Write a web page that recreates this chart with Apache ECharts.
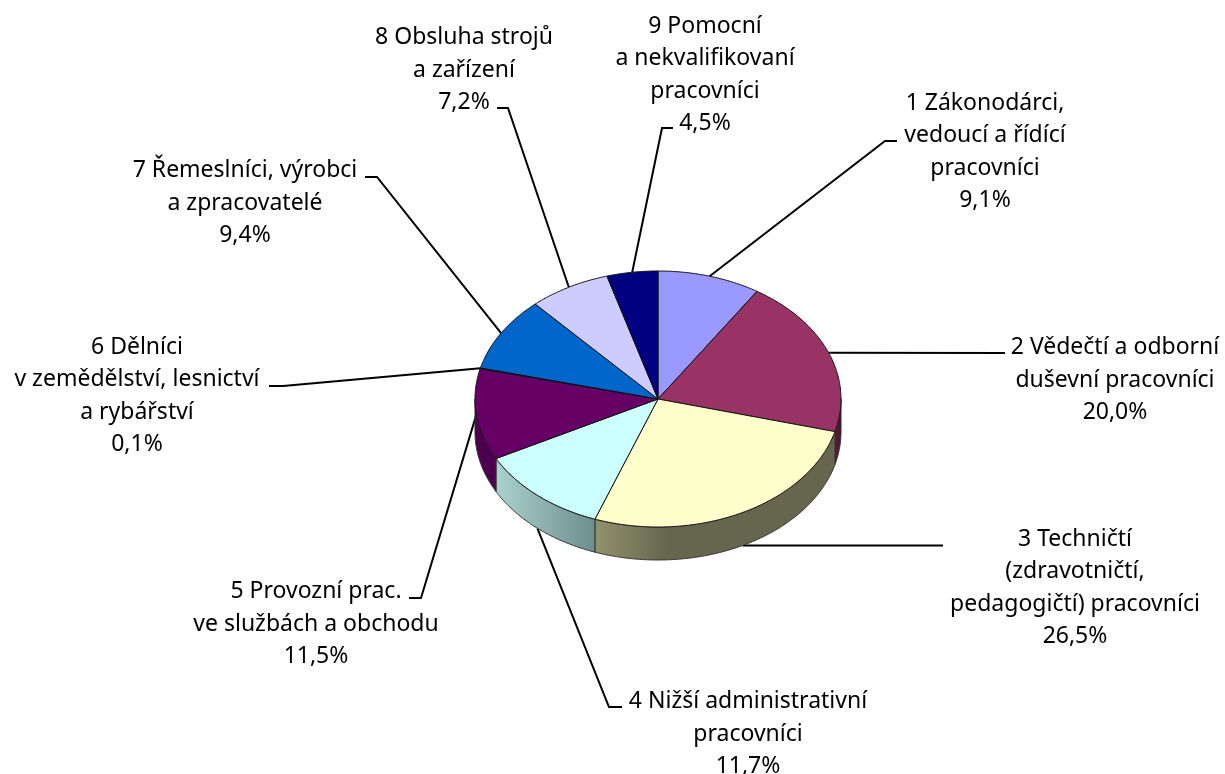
<!DOCTYPE html>
<html><head><meta charset="utf-8">
<style>html,body{margin:0;padding:0;background:#fff}#c{width:1225px;height:774px}</style>
<script src="https://cdn.jsdelivr.net/npm/echarts@6/dist/echarts.min.js"></script>
</head><body><div id="c"></div>
<script>
const categories = [
  "1 Zákonodárci,\nvedoucí a řídící\npracovníci",
  "2 Vědečtí a odborní\nduševní pracovníci",
  "3 Techničtí\n(zdravotničtí,\npedagogičtí) pracovníci",
  "4 Nižší administrativní\npracovníci",
  "5 Provozní prac.\nve službách a obchodu",
  "6 Dělníci\nv zemědělství, lesnictví\na rybářství",
  "7 Řemeslníci, výrobci\na zpracovatelé",
  "8 Obsluha strojů\na zařízení",
  "9 Pomocní\na nekvalifikovaní\npracovníci"
];
const values = [9.1, 20.0, 26.5, 11.7, 11.5, 0.1, 9.4, 7.2, 4.5];
const sliceColors = ["#9999FF","#993366","#FFFFCC","#CCFFFF","#660066","#FF8080","#0066CC","#CCCCFF","#000080"];
const wallLight = ["#5c5c99","#5c1f3d","#92926f","#abd2cf","#4d004d","#995050","#003d7a","#7a7a99","#00004d"];
const wallDark  = ["#5c5c99","#4a1030","#66664f","#6b8e8e","#4d004d","#995050","#003d7a","#7a7a99","#00004d"];
// layout: label block centres and the leader-line elbows
const labelCenter = [[985,152],[1115,380],[1075,588],[748,734],[316,624],[137,396],[245,203],[464,70],[705,75]];
const elbows = [
  [[885,141],[897,141]],
  [[1005,353]],
  [[943,545.5]],
  [[609,707],[622,707]],
  [[421,598],[409,598]],
  [[283,386],[269,386]],
  [[377,177],[365,177]],
  [[508,108],[497,108]],
  [[662,128],[673,128]]
];
const CX = 658, CY = 399, RX = 183, RY = 128, DEPTH = 33;
const FONT = '23px "Noto Sans"', LINE_H = 32.5;
const total = values.reduce((a,b)=>a+b,0);
const starts = []; values.reduce((acc,v,i)=>{starts[i]=acc;return acc+v;},0);
const toA = p => p/total*2*Math.PI;
const rim = (a,dy=0) => [CX+RX*Math.sin(a), CY-RY*Math.cos(a)+dy];
const arc = (a0,a1,dy=0) => { const n=Math.max(2,Math.ceil((a1-a0)*180/Math.PI)*2), o=[]; for(let i=0;i<=n;i++) o.push(rim(a0+(a1-a0)*i/n,dy)); return o; };

function renderItem(params, api){
  const i = params.dataIndex, v = api.value(0);
  const a0 = toA(starts[i]), a1 = toA(starts[i]+v), mid=(a0+a1)/2;
  const children = [];
  // visible side wall: lower half of the ellipse only
  const w0 = Math.max(a0,Math.PI/2), w1 = Math.min(a1,Math.PI*1.5);
  if (w1>w0){
    const top = arc(w0,w1), bot = arc(w0,w1,DEPTH).reverse();
    children.push({type:'polygon',z2:2,shape:{points:top.concat(bot)},style:{
      fill:new echarts.graphic.LinearGradient(0,0,1,0,[{offset:0,color:wallLight[i]},{offset:i===2?0.3:1,color:wallDark[i]},{offset:1,color:wallDark[i]}]),
      stroke:'#333',lineWidth:1}});
  }
  // top face
  children.push({type:'polygon',z2:3,shape:{points:[[CX,CY]].concat(arc(a0,a1))},style:{fill:sliceColors[i],stroke:'#111',lineWidth:1}});
  // leader line, from the slice's mid-rim point (front slices: wall foot)
  const onWall = mid>Math.PI/2 && mid<Math.PI*1.4;
  const pts = [rim(mid,onWall?DEPTH:0)].concat(elbows[i]);
  children.push({type:'polyline',z2:1,shape:{points:pts},style:{fill:null,stroke:'#000',lineWidth:2}});
  // label
  children.push({type:'text',z2:5,style:{
    text:categories[i]+"\n"+v.toFixed(1).replace('.',',')+"%",
    x:labelCenter[i][0],y:labelCenter[i][1],align:'center',verticalAlign:'middle',
    font:FONT,lineHeight:LINE_H,fill:'#000'}});
  return {type:'group',children};
}
const chart = echarts.init(document.getElementById('c'),null,{renderer:'canvas'});
chart.setOption({animation:false,backgroundColor:'#fff',series:[{type:'custom',coordinateSystem:'none',silent:true,
  data:values.map(v=>[v]),encode:{value:0},renderItem}]});
</script></body></html>
